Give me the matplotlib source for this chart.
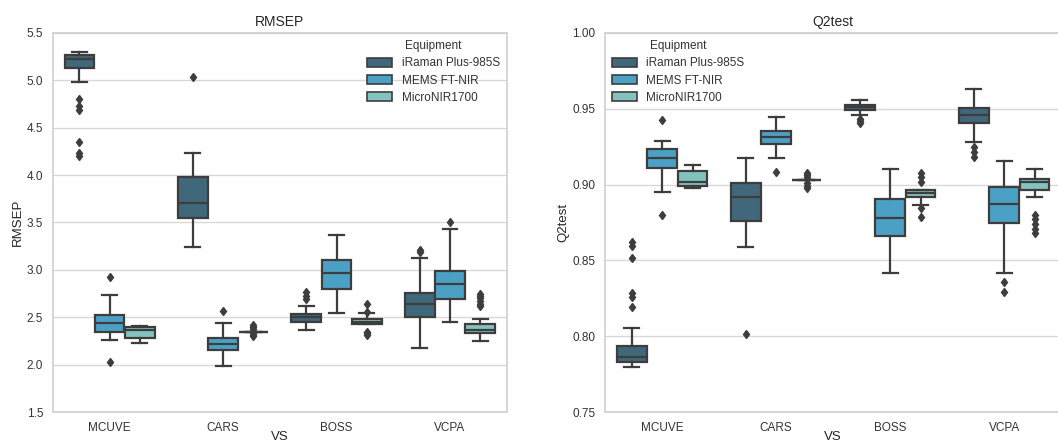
"""
Boxplots of RMSEP and Q2test per variable-selection method and equipment.
"""

import matplotlib
matplotlib.use("Agg")
import matplotlib.pyplot as plt
from matplotlib.patches import Patch

METHODS = ["MCUVE", "CARS", "BOSS", "VCPA"]
EQUIPMENT = ["iRaman Plus-985S", "MEMS FT-NIR", "MicroNIR1700"]
COLORS = ["#40687a", "#4ba1c5", "#83c2be"]
LINE = "#3d3d3d"

# box statistics per equipment, one entry per method:
# (whislo, q1, median, q3, whishi)
RMSEP_STATS = {
    "iRaman Plus-985S": [
        (4.98, 5.125, 5.23, 5.265, 5.30),
        (3.24, 3.55, 3.71, 3.976, 4.236),
        (2.367, 2.455, 2.50, 2.536, 2.617),
        (2.172, 2.499, 2.636, 2.752, 3.13),
    ],
    "MEMS FT-NIR": [
        (2.26, 2.34, 2.44, 2.525, 2.74),
        (1.99, 2.155, 2.215, 2.28, 2.44),
        (2.54, 2.80, 2.965, 3.10, 3.37),
        (2.452, 2.689, 2.847, 2.987, 3.43),
    ],
    "MicroNIR1700": [
        (2.225, 2.28, 2.37, 2.395, 2.41),
        (2.35, 2.35, 2.35, 2.35, 2.35),
        (2.425, 2.425, 2.455, 2.478, 2.541),
        (2.252, 2.33, 2.365, 2.431, 2.48),
    ],
}
RMSEP_FLIERS = {
    "iRaman Plus-985S": [
        [4.80, 4.73, 4.69, 4.35, 4.23, 4.20],
        [5.03],
        [2.77, 2.72, 2.69],
        [3.21, 3.19],
    ],
    "MEMS FT-NIR": [
        [2.93, 2.03],
        [2.57],
        [],
        [3.507],
    ],
    "MicroNIR1700": [
        [],
        [2.42, 2.40, 2.38, 2.33, 2.31, 2.30],
        [2.64, 2.56, 2.35, 2.33, 2.31],
        [2.75, 2.72, 2.70, 2.67, 2.64, 2.62],
    ],
}

Q2_STATS = {
    "iRaman Plus-985S": [
        (0.780, 0.783, 0.786, 0.7937, 0.8055),
        (0.8591, 0.8758, 0.892, 0.9008, 0.9173),
        (0.9462, 0.9495, 0.9513, 0.9526, 0.9561),
        (0.9282, 0.9403, 0.9458, 0.9506, 0.9627),
    ],
    "MEMS FT-NIR": [
        (0.8949, 0.9111, 0.9177, 0.9234, 0.9289),
        (0.9175, 0.9269, 0.9317, 0.9353, 0.9447),
        (0.8415, 0.8659, 0.8778, 0.8903, 0.910),
        (0.8418, 0.8748, 0.8871, 0.8985, 0.9156),
    ],
    "MicroNIR1700": [
        (0.8975, 0.8993, 0.9017, 0.9087, 0.9129),
        (0.903, 0.903, 0.903, 0.903, 0.903),
        (0.8864, 0.892, 0.8945, 0.8963, 0.8963),
        (0.8915, 0.8963, 0.9018, 0.9038, 0.9106),
    ],
}
Q2_FLIERS = {
    "iRaman Plus-985S": [
        [0.862, 0.8595, 0.8514, 0.8284, 0.8257, 0.8196],
        [0.8018],
        [0.9432, 0.942, 0.9407],
        [0.9249, 0.9215, 0.9183],
    ],
    "MEMS FT-NIR": [
        [0.9425, 0.8802],
        [0.908],
        [],
        [0.8359, 0.8289],
    ],
    "MicroNIR1700": [
        [],
        [0.9078, 0.9065, 0.905, 0.901, 0.899, 0.8975],
        [0.9075, 0.905, 0.9016, 0.8847, 0.8787],
        [0.8798, 0.877, 0.874, 0.871, 0.8678],
    ],
}


def draw_panel(ax, stats, fliers, title, ylim, yticks, fmt, legend_loc):
    width = 0.8 / len(EQUIPMENT)
    for j, equip in enumerate(EQUIPMENT):
        boxes = []
        for i, (lo, q1, med, q3, hi) in enumerate(stats[equip]):
            boxes.append(dict(whislo=lo, q1=q1, med=med, q3=q3, whishi=hi,
                              fliers=fliers[equip][i]))
        positions = [i - 0.4 + width * (j + 0.5) for i in range(len(METHODS))]
        ax.bxp(
            boxes,
            positions=positions,
            widths=width * 0.98,
            patch_artist=True,
            manage_ticks=False,
            boxprops=dict(facecolor=COLORS[j], edgecolor=LINE, linewidth=1.6),
            medianprops=dict(color=LINE, linewidth=1.6),
            whiskerprops=dict(color=LINE, linewidth=1.6),
            capprops=dict(color=LINE, linewidth=1.6),
            capwidths=width * 0.98 * 0.5,
            flierprops=dict(marker="d", markerfacecolor=LINE,
                            markeredgecolor=LINE, markersize=4.5),
        )

    ax.set_xlim(-0.5, len(METHODS) - 0.5)
    ax.set_xticks(range(len(METHODS)))
    ax.set_xticklabels(METHODS)
    ax.set_ylim(*ylim)
    ax.set_yticks(yticks)
    ax.set_yticklabels([fmt.format(v) for v in yticks])
    ax.yaxis.grid(True, color="#d8d8d8", linewidth=1)
    ax.xaxis.grid(False)
    ax.set_axisbelow(True)
    for spine in ax.spines.values():
        spine.set_color("#d0d0d0")
        spine.set_linewidth(1.2)
    ax.tick_params(length=0, labelsize=8.5, colors="#333333", pad=7)
    ax.set_title(title, fontsize=10, color="#262626", pad=5)
    ax.set_ylabel(title, fontsize=9.5, color="#262626", labelpad=2)
    ax.set_xlabel("VS", fontsize=9.5, color="#262626", labelpad=-2)

    handles = [Patch(facecolor=c, edgecolor=LINE, linewidth=1.2) for c in COLORS]
    leg = ax.legend(handles, EQUIPMENT, title="Equipment", loc=legend_loc,
                    frameon=False, fontsize=8.5, title_fontsize=8.5,
                    handlelength=2.1, handleheight=0.8, handletextpad=0.8,
                    labelspacing=0.45, borderpad=0.3, borderaxespad=0.3)
    leg.get_title().set_color("#333333")
    for t in leg.get_texts():
        t.set_color("#333333")


plt.rcParams["font.family"] = ["Liberation Sans", "DejaVu Sans"]

fig = plt.figure(figsize=(10.58, 4.45), dpi=100)
ax1 = fig.add_axes([0.050, 0.074, 0.429, 0.852])
ax2 = fig.add_axes([0.572, 0.074, 0.431, 0.852])

draw_panel(ax1, RMSEP_STATS, RMSEP_FLIERS, "RMSEP", (1.5, 5.5),
           [1.5, 2.0, 2.5, 3.0, 3.5, 4.0, 4.5, 5.0, 5.5], "{:.1f}", "upper right")
draw_panel(ax2, Q2_STATS, Q2_FLIERS, "Q2test", (0.75, 1.00),
           [0.75, 0.80, 0.85, 0.90, 0.95, 1.00], "{:.2f}", "upper left")

fig.savefig("out.png", dpi=100)
